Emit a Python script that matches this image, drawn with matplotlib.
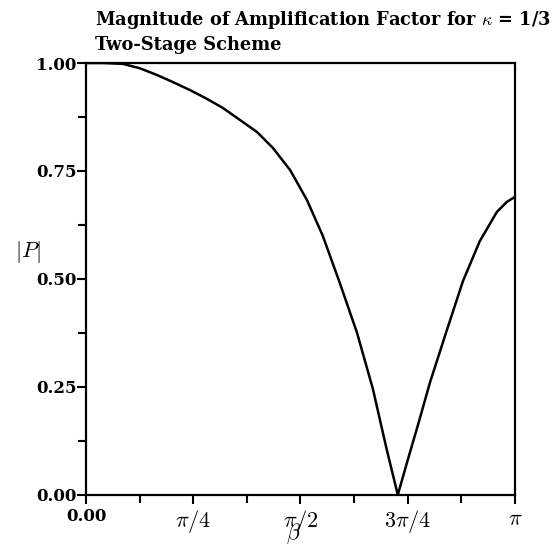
import matplotlib
matplotlib.use("Agg")
import matplotlib.pyplot as plt
import numpy as np
from matplotlib.ticker import FixedLocator

plt.rcParams['font.family'] = ['DejaVu Serif']
plt.rcParams['font.weight'] = 'bold'
plt.rcParams['mathtext.fontset'] = 'cm'

# values (beta given as a fraction of pi)
beta_frac = [0, 0.04, 0.086, 0.125, 0.166, 0.2, 0.242, 0.28, 0.319, 0.359,
             0.399, 0.436, 0.476, 0.515, 0.552, 0.592, 0.632, 0.669, 0.70,
             0.727, 0.75, 0.775, 0.802, 0.841, 0.879, 0.918, 0.958, 0.981, 1.0]
mag_P = [1.0, 1.0, 0.998, 0.988, 0.972, 0.957, 0.9375, 0.918, 0.896, 0.868,
         0.84, 0.803, 0.752, 0.683, 0.60, 0.49, 0.375, 0.245, 0.11,
         0.0, 0.08, 0.165, 0.26, 0.38, 0.495, 0.587, 0.655, 0.678, 0.69]

x_ticks_frac = [0, 0.25, 0.5, 0.75, 1.0]
x_tick_labels = ['0.00', r'$\pi/4$', r'$\pi/2$', r'$3\pi/4$', r'$\pi$']
y_ticks = [0.0, 0.25, 0.5, 0.75, 1.0]
y_tick_labels = ['0.00', '0.25', '0.50', '0.75', '1.00']

beta = np.array(beta_frac) * np.pi

fig = plt.figure(figsize=(5.59, 5.48), dpi=100)
ax = fig.add_axes([0.154, 0.097, 0.767, 0.788])

ax.plot(beta, mag_P, color='black', lw=1.8)

ax.set_xlim(0, np.pi)
ax.set_ylim(0, 1)

ax.set_xticks(np.array(x_ticks_frac) * np.pi)
ax.set_xticklabels(x_tick_labels, fontsize=16)
ax.get_xticklabels()[0].set_fontsize(12)
ax.xaxis.set_minor_locator(FixedLocator(np.array([0.125, 0.375, 0.625, 0.875]) * np.pi))
ax.set_yticks(y_ticks)
ax.set_yticklabels(y_tick_labels, fontsize=12)
ax.yaxis.set_minor_locator(FixedLocator([0.125, 0.375, 0.625, 0.875]))

ax.tick_params(which='major', direction='out', length=6.5, width=1.5,
               top=False, right=False)
ax.tick_params(axis='x', which='major', pad=3)
ax.tick_params(axis='y', which='major', pad=0.5)
ax.tick_params(which='minor', direction='out', length=6, width=1.5,
               top=False, right=False)
for s in ax.spines.values():
    s.set_linewidth(1.6)

ax.set_ylabel(r'$|P|$', rotation=0, fontsize=16, va='center', ha='center')
ax.yaxis.set_label_coords(-0.135, 0.5625)
ax.set_xlabel(r'$\beta$', fontsize=16, va='top')
ax.xaxis.set_label_coords(0.485, -0.062)

fig.text(0.17, 0.954, r'Magnitude of Amplification Factor for $\kappa$ = 1/3',
         fontsize=12.8, fontweight='bold', ha='left', va='baseline')
fig.text(0.17, 0.909, 'Two-Stage Scheme',
         fontsize=12.8, fontweight='bold', ha='left', va='baseline')

fig.savefig('out.png', dpi=100)
